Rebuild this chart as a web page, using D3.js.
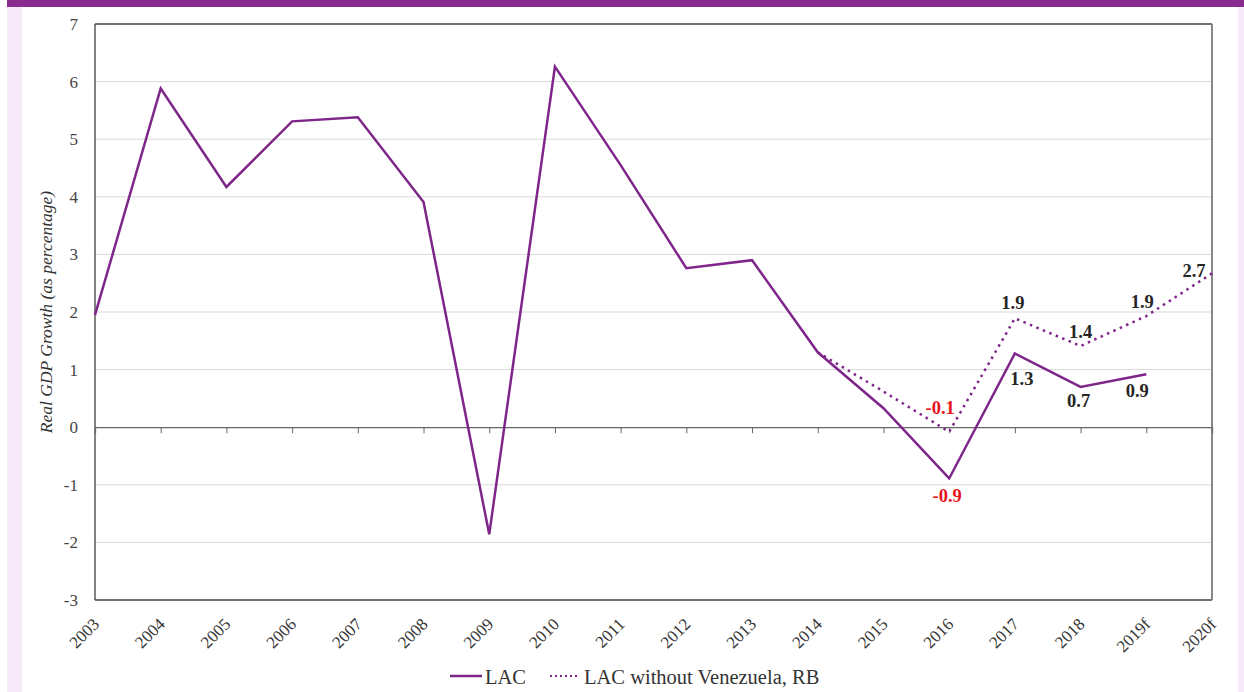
<!DOCTYPE html>
<html><head><meta charset="utf-8">
<script src="https://cdn.jsdelivr.net/npm/d3@7"></script>
<style>html,body{margin:0;padding:0;background:#fff;}svg{display:block;}</style>
</head><body>
<svg id="c" width="1244" height="692"></svg>
<script>
const categories = ["2003","2004","2005","2006","2007","2008","2009","2010","2011","2012","2013","2014","2015","2016","2017","2018","2019f","2020f"];
const lac = [1.95,5.88,4.17,5.31,5.38,3.91,-1.86,6.26,4.55,2.76,2.9,1.3,0.33,-0.89,1.28,0.7,0.92,null];
const lacExVen = [null,null,null,null,null,null,null,null,null,null,null,1.3,0.62,-0.08,1.89,1.41,1.93,2.67];
const yTicks = [-3,-2,-1,0,1,2,3,4,5,6,7];
const labelsLac = [{i:13,t:"-0.9",red:true},{i:14,t:"1.3"},{i:15,t:"0.7"},{i:16,t:"0.9"}];
const labelsEx = [{i:13,t:"-0.1",red:true},{i:14,t:"1.9"},{i:15,t:"1.4"},{i:16,t:"1.9"},{i:17,t:"2.7"}];

const svg = d3.select("#c");
const purple = "#7e2689";
const serif = "'Liberation Serif', 'Times New Roman', serif";

// frame
svg.append("rect").attr("x",7).attr("y",0).attr("width",1237).attr("height",692).attr("fill","#f6eaf8");
svg.append("rect").attr("x",22).attr("y",7).attr("width",1216).attr("height",685).attr("fill","#fff");
svg.append("rect").attr("x",7).attr("y",0).attr("width",1237).attr("height",7).attr("fill","#8a2b8f");

const L=95, R=1212, T=24, B=600;
const x = d3.scalePoint().domain(categories).range([L,R]);
const y = d3.scaleLinear().domain([-3,7]).range([B,T]);

// gridlines
svg.append("g").selectAll("line").data(yTicks.filter(d=>d!==0&&d!==-3&&d!==7)).join("line")
  .attr("x1",L).attr("x2",R).attr("y1",d=>y(d)).attr("y2",d=>y(d))
  .attr("stroke","#d9d9d9").attr("stroke-width",1);

// plot border
svg.append("line").attr("x1",L).attr("x2",R).attr("y1",T).attr("y2",T).attr("stroke","#404040").attr("stroke-width",1.3);
svg.append("line").attr("x1",L).attr("x2",R).attr("y1",B).attr("y2",B).attr("stroke","#404040").attr("stroke-width",1.3);
svg.append("line").attr("x1",L).attr("x2",L).attr("y1",T).attr("y2",B).attr("stroke","#404040").attr("stroke-width",1.3);
svg.append("line").attr("x1",R).attr("x2",R).attr("y1",T).attr("y2",B).attr("stroke","#888").attr("stroke-width",2);

// zero axis with ticks
const xAxis = d3.axisBottom(x).tickSize(6).tickFormat("");
const gx = svg.append("g").attr("transform",`translate(0,${y(0)})`).call(xAxis);
gx.select(".domain").attr("stroke","#666").attr("stroke-width",1.3);
gx.selectAll(".tick line").attr("stroke","#666");

// y axis labels
const yAxis = d3.axisLeft(y).tickValues(yTicks).tickSize(0).tickPadding(17).tickFormat(d=>String(d));
const gy = svg.append("g").attr("transform",`translate(${L},0)`).call(yAxis);
gy.select(".domain").remove();
gy.selectAll("text").attr("font-family",serif).attr("font-size",17).attr("fill","#444");

// x labels rotated
svg.append("g").selectAll("text").data(categories).join("text")
  .attr("transform",d=>`translate(${x(d)+1},${B+21}) rotate(-45)`)
  .attr("text-anchor","end").attr("dy","0.35em")
  .attr("font-family",serif).attr("font-size",17).attr("fill","#333")
  .text(d=>d);

// y title
svg.append("text").attr("transform",`translate(52,${(T+B)/2}) rotate(-90)`)
  .attr("text-anchor","middle").attr("font-family",serif).attr("font-style","italic")
  .attr("font-size",17.5).attr("fill","#333").text("Real GDP Growth (as percentage)");

// lines
const line = d3.line().defined(d=>d.v!==null).x(d=>x(d.c)).y(d=>y(d.v));
const d1 = categories.map((c,i)=>({c,v:lac[i]}));
const d2 = categories.map((c,i)=>({c,v:lacExVen[i]}));
svg.append("path").datum(d2).attr("d",line).attr("fill","none").attr("stroke",purple).attr("stroke-width",2.5).attr("stroke-dasharray","2.5,4.5");
svg.append("path").datum(d1).attr("d",line).attr("fill","none").attr("stroke",purple).attr("stroke-width",2.5).attr("stroke-linejoin","miter");

// data labels
function lbl(arr, vals, pos){
  svg.append("g").selectAll("text").data(arr).join("text")
    .attr("x",d=>x(categories[d.i]) + pos(d).dx)
    .attr("y",d=>y(vals[d.i]) + pos(d).dy)
    .attr("text-anchor","middle")
    .attr("font-family",serif).attr("font-weight","bold").attr("font-size",18.5)
    .attr("fill",d=>d.red?"#e8141c":"#262626").text(d=>d.t);
}
const offLac = {13:[-2,24],14:[7,32],15:[-2,20],16:[-9,23]};
const offEx = {13:[-9,-18],14:[-2,-9],15:[0,-8],16:[-4,-8],17:[-18,4]};
lbl(labelsLac, lac, d=>({dx:offLac[d.i][0], dy:offLac[d.i][1]}));
lbl(labelsEx, lacExVen, d=>({dx:offEx[d.i][0], dy:offEx[d.i][1]}));

// legend
const lg = svg.append("g");
lg.append("line").attr("x1",450).attr("x2",482).attr("y1",676).attr("y2",676).attr("stroke",purple).attr("stroke-width",2.5);
lg.append("text").attr("x",485).attr("y",684).attr("font-family",serif).attr("font-size",20.5).attr("fill","#333").text("LAC");
lg.append("line").attr("x1",550).attr("x2",579).attr("y1",676).attr("y2",676).attr("stroke",purple).attr("stroke-width",2).attr("stroke-dasharray","2,3");
lg.append("text").attr("x",584).attr("y",684).attr("font-family",serif).attr("font-size",20.5).attr("fill","#333").text("LAC without Venezuela, RB");
</script>
</body></html>
